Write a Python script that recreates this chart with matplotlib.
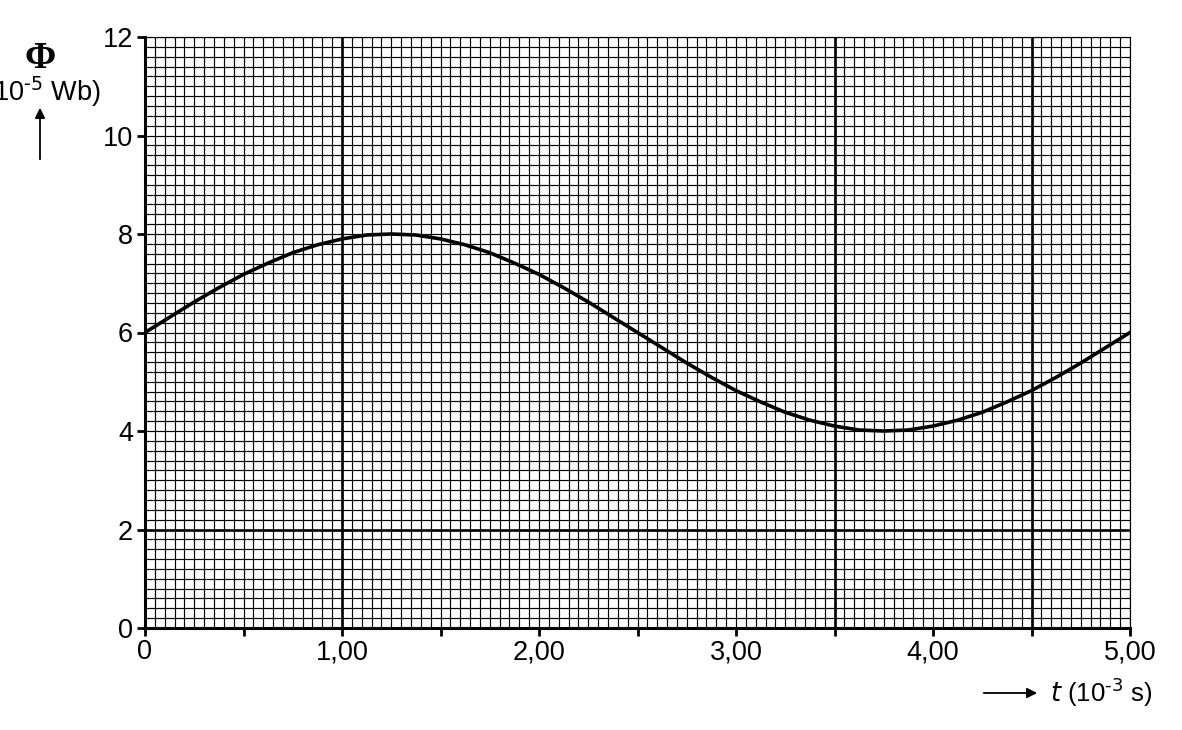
import numpy as np
import matplotlib.pyplot as plt

# flux curve (t in ms, phi in 1e-5 Wb)
t_ms = [0, 0.125, 0.25, 0.375, 0.5, 0.625, 0.75, 0.875, 1.0, 1.125, 1.25,
        1.375, 1.5, 1.625, 1.75, 1.875, 2.0, 2.125, 2.25, 2.375, 2.5,
        2.625, 2.75, 2.875, 3.0, 3.125, 3.25, 3.375, 3.5, 3.625, 3.75,
        3.875, 4.0, 4.125, 4.25, 4.375, 4.5, 4.625, 4.75, 4.875, 5.0]
phi = [6.00, 6.31, 6.62, 6.91, 7.18, 7.41, 7.62, 7.78, 7.90, 7.98, 8.00,
       7.98, 7.90, 7.78, 7.62, 7.41, 7.18, 6.91, 6.62, 6.31, 6.00,
       5.69, 5.38, 5.09, 4.82, 4.59, 4.38, 4.22, 4.10, 4.02, 4.00,
       4.02, 4.10, 4.22, 4.38, 4.59, 4.82, 5.09, 5.38, 5.69, 6.00]

x_ticks = [0, 0.5, 1, 1.5, 2, 2.5, 3, 3.5, 4, 4.5, 5]
x_labels = ["0", "", "1,00", "", "2,00", "", "3,00", "", "4,00", "", "5,00"]
y_ticks = [0, 2, 4, 6, 8, 10, 12]
y_labels = ["0", "2", "4", "6", "8", "10", "12"]

plt.rcParams["font.family"] = ["Liberation Sans", "DejaVu Sans"]

W, H = 1182, 730
fig = plt.figure(figsize=(W / 100, H / 100), dpi=100)
ax = fig.add_axes([145 / W, 1 - 628 / H, (1130 - 145) / W, (628 - 37) / H])

ax.set_xlim(0, 5)
ax.set_ylim(0, 12)

# graph paper
ax.set_xticks(np.arange(0, 5.001, 0.05), minor=True)
ax.set_yticks(np.arange(0, 12.001, 0.2), minor=True)
ax.grid(which="both", color="black", linewidth=0.85)
ax.tick_params(which="minor", length=0)
for xv in [1.0, 3.5, 4.5]:
    ax.axvline(xv, color="black", linewidth=1.9)
ax.axhline(2, color="black", linewidth=1.9)

ax.plot(t_ms, phi, color="black", linewidth=2.6, zorder=5)

ax.set_xticks(x_ticks)
ax.set_xticklabels(x_labels)
ax.set_yticks(y_ticks)
ax.set_yticklabels(y_labels)
ax.tick_params(which="major", direction="out", length=5.5, width=2,
               labelsize=19.5, color="black")
ax.tick_params(axis="x", pad=2.5)
ax.tick_params(axis="y", pad=3)

for side in ["left", "bottom"]:
    ax.spines[side].set_linewidth(2.2)
for side in ["top", "right"]:
    ax.spines[side].set_linewidth(0.85)

# axis labels with arrows, placed like the original sheet
fig.text(40 / W, 1 - 58 / H, "\u03a6", fontsize=27, ha="center", va="center",
         family="Liberation Serif", fontweight="bold")
fig.text(101 / W, 1 - 92 / H, r"(10$^{\text{-}5}$ Wb)", fontsize=19.5, ha="right", va="center")
fig.add_artist(plt.Annotation("", xy=(40 / W, 1 - 105 / H), xytext=(40 / W, 1 - 162 / H),
                              xycoords="figure fraction", textcoords="figure fraction",
                              arrowprops=dict(arrowstyle="-|>", color="black", lw=1.3,
                                              mutation_scale=15)))
fig.add_artist(plt.Annotation("", xy=(1040 / W, 1 - 693 / H), xytext=(981 / W, 1 - 693 / H),
                              xycoords="figure fraction", textcoords="figure fraction",
                              arrowprops=dict(arrowstyle="-|>", color="black", lw=1.3,
                                              mutation_scale=15)))
fig.text(1050 / W, 1 - 692 / H, r"$t$ (10$^{\text{-}3}$ s)", fontsize=18.5, ha="left", va="center")

fig.savefig("out.png", dpi=100)
